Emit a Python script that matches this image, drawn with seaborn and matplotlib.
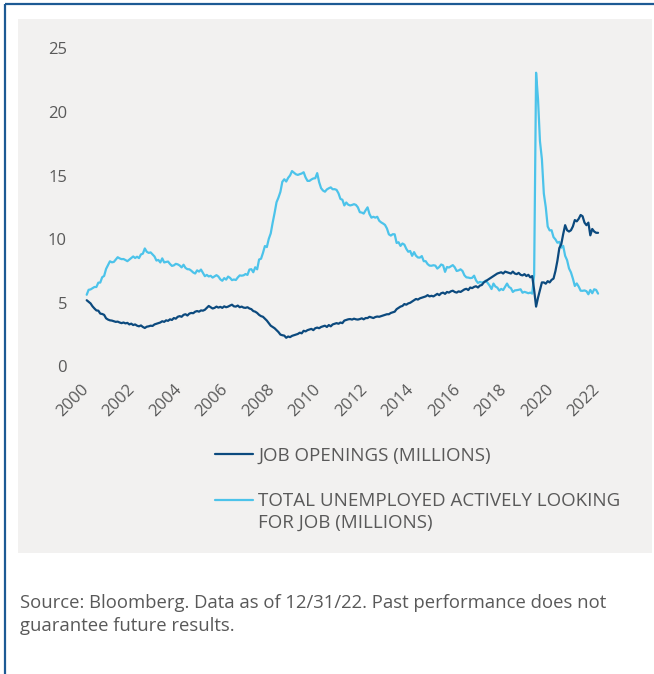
import numpy as np
import pandas as pd
import matplotlib
matplotlib.use("Agg")
import matplotlib.pyplot as plt
import seaborn as sns
from matplotlib.patches import Rectangle
from matplotlib.lines import Line2D

# ---------------- data (monthly, Dec 2000 .. Dec 2022, millions) ----------------
job_openings = [
    5.20,
    5.08, 4.95, 4.72, 4.55, 4.40, 4.38, 4.15, 4.12, 4.05, 3.78, 3.68, 3.62,   # 2001
    3.60, 3.55, 3.50, 3.52, 3.45, 3.40, 3.45, 3.38, 3.42, 3.30, 3.36, 3.25,   # 2002
    3.30, 3.20, 3.15, 3.22, 3.10, 3.02, 3.12, 3.15, 3.20, 3.18, 3.30, 3.35,   # 2003
    3.40, 3.45, 3.55, 3.50, 3.62, 3.58, 3.70, 3.65, 3.80, 3.75, 3.90, 3.95,   # 2004
    3.90, 4.05, 4.10, 4.00, 4.15, 4.20, 4.18, 4.30, 4.35, 4.30, 4.40, 4.38,   # 2005
    4.45, 4.60, 4.75, 4.65, 4.55, 4.60, 4.70, 4.62, 4.68, 4.60, 4.72, 4.65,   # 2006
    4.70, 4.78, 4.85, 4.72, 4.70, 4.78, 4.65, 4.70, 4.62, 4.60, 4.65, 4.55,   # 2007
    4.50, 4.35, 4.30, 4.20, 4.05, 3.95, 3.90, 3.75, 3.60, 3.40, 3.20, 3.10,   # 2008
    3.00, 2.85, 2.70, 2.50, 2.45, 2.42, 2.25, 2.35, 2.30, 2.40, 2.45, 2.50,   # 2009
    2.55, 2.65, 2.60, 2.80, 2.75, 2.85, 2.90, 2.95, 2.85, 3.00, 3.05, 3.00,   # 2010
    3.10, 3.15, 3.20, 3.10, 3.25, 3.15, 3.30, 3.35, 3.40, 3.35, 3.45, 3.40,   # 2011
    3.60, 3.65, 3.70, 3.72, 3.68, 3.75, 3.70, 3.68, 3.72, 3.78, 3.70, 3.80,   # 2012
    3.80, 3.90, 3.85, 3.80, 3.88, 3.92, 3.90, 3.95, 4.00, 4.05, 4.10, 4.10,   # 2013
    4.20, 4.25, 4.30, 4.50, 4.60, 4.70, 4.75, 4.90, 4.85, 4.95, 5.00, 5.10,   # 2014
    5.20, 5.30, 5.25, 5.35, 5.40, 5.45, 5.50, 5.60, 5.50, 5.55, 5.50, 5.60,   # 2015
    5.70, 5.60, 5.75, 5.80, 5.70, 5.85, 5.80, 5.90, 5.95, 5.85, 5.80, 5.90,   # 2016
    5.85, 5.95, 6.05, 6.10, 6.00, 6.20, 6.15, 6.25, 6.30, 6.20, 6.35, 6.40,   # 2017
    6.60, 6.70, 6.80, 6.90, 7.00, 7.10, 7.20, 7.30, 7.35, 7.40, 7.30, 7.45,   # 2018
    7.40, 7.35, 7.30, 7.45, 7.30, 7.25, 7.35, 7.20, 7.15, 7.25, 7.10, 7.20,   # 2019
    7.00, 7.10, 6.00, 4.70, 5.40, 6.00, 6.60, 6.60, 6.50, 6.70, 6.60, 6.80,   # 2020
    6.90, 7.50, 8.30, 9.30, 9.60, 10.40, 11.10, 10.70, 10.60, 10.70, 11.00, 11.50,  # 2021
    11.40, 11.60, 11.90, 11.80, 11.30, 11.10, 11.30, 10.30, 10.80, 10.60, 10.50, 10.50,  # 2022
]

unemployed = [
    5.63,
    6.02, 6.05, 6.14, 6.24, 6.24, 6.58, 6.59, 7.01, 7.11, 7.66, 7.96, 8.26,   # 2001
    8.18, 8.21, 8.39, 8.58, 8.49, 8.43, 8.44, 8.36, 8.27, 8.39, 8.52, 8.64,   # 2002
    8.52, 8.62, 8.51, 8.80, 8.86, 9.27, 9.01, 8.92, 8.96, 8.80, 8.64, 8.32,   # 2003
    8.37, 8.17, 8.49, 8.17, 8.21, 8.24, 8.05, 7.90, 7.94, 8.06, 8.02, 7.93,   # 2004
    7.78, 7.99, 7.74, 7.64, 7.63, 7.52, 7.38, 7.30, 7.55, 7.45, 7.61, 7.35,   # 2005
    7.09, 7.19, 7.07, 7.12, 6.98, 7.07, 7.17, 7.06, 6.84, 6.73, 6.94, 6.82,   # 2006
    7.06, 6.96, 6.78, 6.83, 6.79, 6.99, 7.15, 7.13, 7.16, 7.26, 7.19, 7.61,   # 2007
    7.64, 7.40, 7.79, 7.63, 8.40, 8.46, 8.92, 9.46, 9.38, 10.02, 10.45, 11.29,  # 2008
    12.06, 12.90, 13.27, 13.72, 14.51, 14.71, 14.53, 14.82, 15.01, 15.35, 15.22, 15.10,  # 2009
    15.05, 15.11, 15.16, 15.26, 14.85, 14.58, 14.58, 14.69, 14.77, 14.79, 15.19, 14.48,  # 2010
    14.01, 13.82, 13.73, 13.91, 14.00, 14.07, 13.92, 13.93, 13.87, 13.60, 13.16, 13.10,  # 2011
    12.65, 12.88, 12.71, 12.65, 12.69, 12.75, 12.69, 12.50, 12.12, 12.09, 12.01, 12.27,  # 2012
    12.50, 11.97, 11.69, 11.76, 11.69, 11.76, 11.45, 11.32, 11.23, 11.12, 10.84, 10.38,  # 2013
    10.28, 10.39, 10.38, 9.70, 9.76, 9.47, 9.66, 9.57, 9.24, 9.01, 9.07, 8.69,   # 2014
    8.98, 8.70, 8.56, 8.55, 8.67, 8.27, 8.27, 8.04, 7.92, 7.91, 7.95, 7.92,   # 2015
    7.69, 7.81, 8.01, 7.94, 7.43, 7.81, 7.77, 7.87, 7.96, 7.79, 7.50, 7.54,   # 2016
    7.63, 7.50, 7.16, 7.00, 6.98, 6.94, 6.96, 7.13, 6.76, 6.56, 6.64, 6.59,   # 2017
    6.63, 6.74, 6.56, 6.35, 6.08, 6.51, 6.28, 6.19, 5.96, 6.09, 6.00, 6.26,   # 2018
    6.51, 6.24, 6.15, 5.85, 5.97, 5.99, 6.02, 6.06, 5.79, 5.86, 5.81, 5.75,   # 2019
    5.80, 5.72, 7.20, 23.08, 20.99, 17.70, 16.29, 13.58, 12.51, 10.99, 10.69, 10.70,  # 2020
    10.16, 9.98, 9.72, 9.79, 9.33, 9.47, 8.69, 8.35, 7.70, 7.39, 6.90, 6.32,  # 2021
    6.52, 6.27, 5.95, 5.94, 5.97, 5.91, 5.67, 6.01, 5.75, 6.06, 6.01, 5.72,   # 2022
]

series_names = ["JOB OPENINGS (MILLIONS)",
                "TOTAL UNEMPLOYED ACTIVELY LOOKING FOR JOB (MILLIONS)"]
tick_labels = ["2000", "2002", "2004", "2006", "2008", "2010",
               "2012", "2014", "2016", "2018", "2020", "2022"]
y_ticks = [0, 5, 10, 15, 20, 25]

# ---------------- styling ----------------
DARK = "#0c4a7e"
LIGHT = "#4cc3ea"
TXT = "#595959"
PANEL = "#f2f1f0"
BORDER = "#1d5a94"

sns.set_theme(style="white")
plt.rcParams["font.family"] = ["Open Sans", "DejaVu Sans"]

W, H = 654, 674
fig = plt.figure(figsize=(W / 100, H / 100), dpi=100)
fig.patch.set_facecolor("white")

# gray panel and border
fig.patches.append(Rectangle((18 / W, 1 - 553 / H), (652 - 18) / W, (553 - 19) / H,
                             transform=fig.transFigure, facecolor=PANEL,
                             edgecolor="none", zorder=-10))
fig.lines.append(Line2D([5 / W, 5 / W], [0, 1 - 3.5 / H], transform=fig.transFigure,
                        color=BORDER, lw=1.6, solid_capstyle="butt"))
fig.lines.append(Line2D([5 / W, 1], [1 - 3.5 / H, 1 - 3.5 / H], transform=fig.transFigure,
                        color=BORDER, lw=1.6, solid_capstyle="butt"))

# axes placement (pixels)
px_per_month = 1.937
x0_px = 86.7
xmin, xmax = -1, 268
left_px = x0_px + xmin * px_per_month
right_px = x0_px + xmax * px_per_month
top_px, bot_px = 48.3, 366.4
ax = fig.add_axes([left_px / W, 1 - bot_px / H, (right_px - left_px) / W, (bot_px - top_px) / H])
ax.patch.set_visible(False)

n = len(job_openings)
df = pd.DataFrame({
    "month": list(range(n)) * 2,
    "value": job_openings + unemployed,
    "series": [series_names[0]] * n + [series_names[1]] * n,
})

sns.lineplot(data=df, x="month", y="value", hue="series",
             palette={series_names[0]: DARK, series_names[1]: LIGHT},
             hue_order=[series_names[1], series_names[0]],
             linewidth=1.6, ax=ax, legend=False)

ax.set_xlim(xmin, xmax)
ax.set_ylim(0, 25)
ax.set_xlabel("")
ax.set_ylabel("")
for s in ax.spines.values():
    s.set_visible(False)

ax.set_yticks(y_ticks)
ax.set_yticklabels([str(v) for v in y_ticks])
ax.set_xticks([24 * k + 2.6 for k in range(len(tick_labels))])
ax.set_xticklabels(tick_labels, rotation=45, ha="right")
ax.tick_params(axis="y", length=0, pad=12.8, labelsize=12, labelcolor=TXT)
ax.tick_params(axis="x", length=0, pad=11, labelsize=12, labelcolor=TXT)

# legend
LFS = 13.5
handles = [Line2D([], [], color=DARK, lw=1.6), Line2D([], [], color=LIGHT, lw=1.6)]
leg = ax.legend(handles, ["JOB OPENINGS (MILLIONS)", "TOTAL UNEMPLOYED ACTIVELY LOOKING"],
                loc="upper left", bbox_to_anchor=(215 / W, 1 - 446.5 / H),
                bbox_transform=fig.transFigure, frameon=False, fontsize=LFS,
                handlelength=2.03, handletextpad=0.27, labelspacing=1.48,
                borderpad=0, borderaxespad=0, labelcolor=TXT)
fig.text(258 / W, 1 - 522.5 / H, "FOR JOB (MILLIONS)", fontsize=LFS, color=TXT,
         ha="left", va="center")

# source note
SFS = 13.3
fig.text(20 / W, 1 - 603 / H, "Source: Bloomberg. Data as of 12/31/22. Past performance does not",
         fontsize=SFS, color=TXT, ha="left", va="center")
fig.text(20 / W, 1 - 626 / H, "guarantee future results.",
         fontsize=SFS, color=TXT, ha="left", va="center")

fig.savefig("out.png", dpi=100, facecolor="white")
